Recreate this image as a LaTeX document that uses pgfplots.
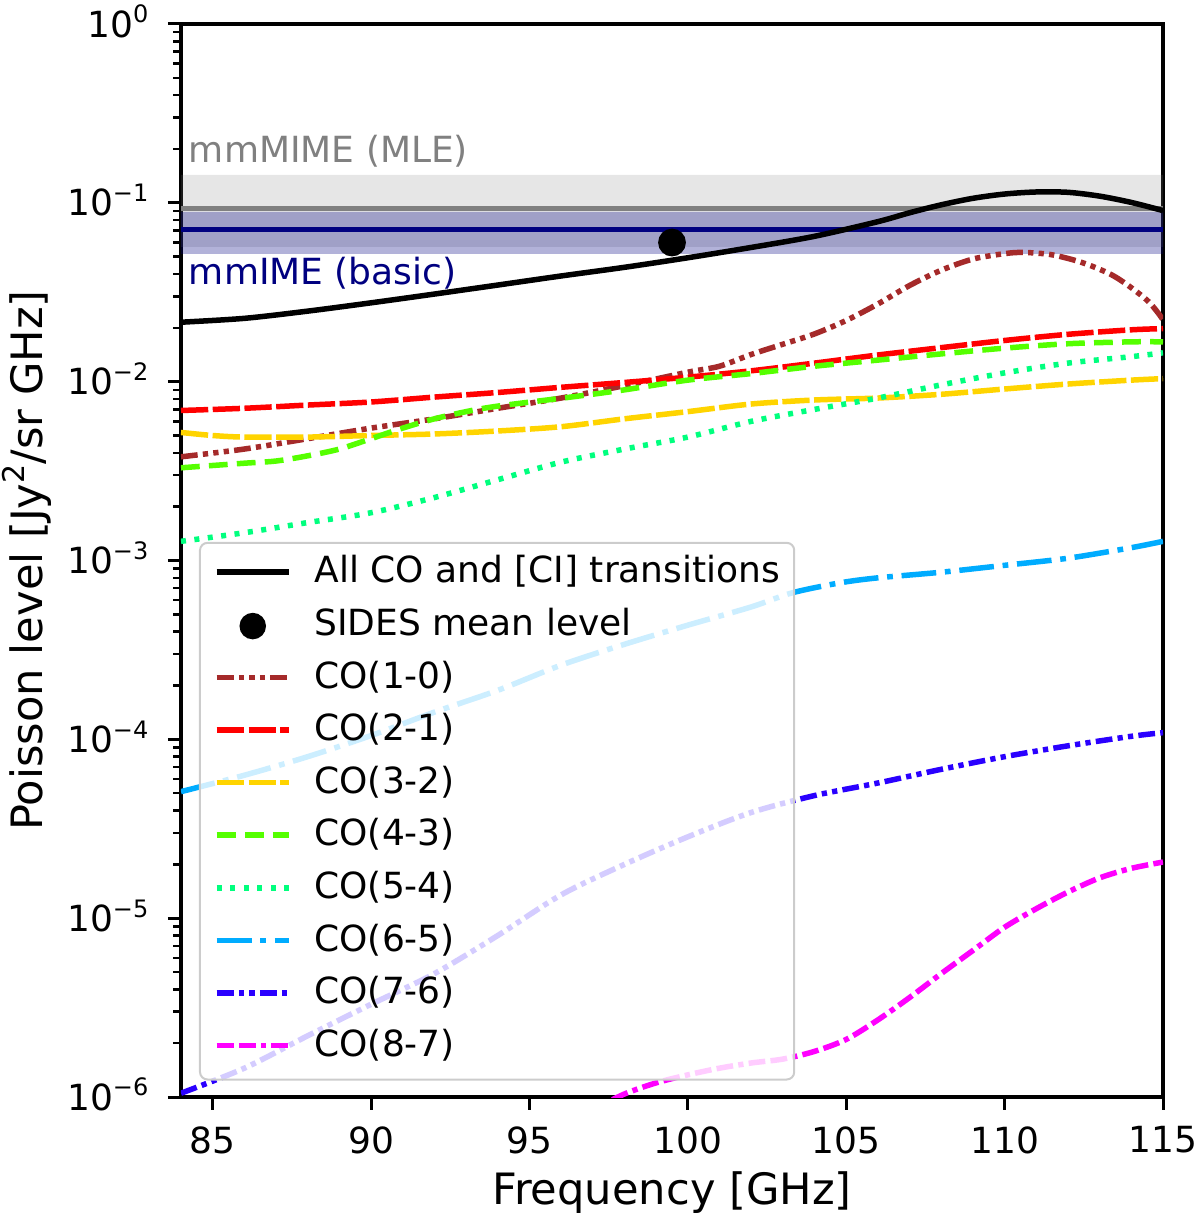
\documentclass[border=0pt]{standalone}
\usepackage{pgfplots}
\pgfplotsset{compat=1.18}
\usepackage{fontspec}
\setmainfont{DejaVu Sans}
\newcommand{\tp}[1]{10\raisebox{5.7pt}{\fontsize{9.6}{10}\selectfont #1}}
\definecolor{cbrown}{HTML}{A52A2A}
\definecolor{cred}{HTML}{FF0000}
\definecolor{cgold}{HTML}{FFD400}
\definecolor{cgreen}{HTML}{55FF00}
\definecolor{cspring}{HTML}{00FF7E}
\definecolor{clblue}{HTML}{00ACFF}
\definecolor{cblue}{HTML}{2A00FF}
\definecolor{cmag}{HTML}{FF00FF}
\definecolor{cnavy}{HTML}{000080}
\definecolor{cgray}{HTML}{808080}
\begin{document}
\begin{tikzpicture}
\begin{semilogyaxis}[
  name=ax,
  scale only axis, width=392.8pt, height=429.2pt,
  xmin=84, xmax=115, ymin=1e-6, ymax=1,
  line width=1.3pt,
  tick pos=left, tick align=outside,
  major tick length=5.2pt, minor tick length=3pt,
  every tick/.style={black, line width=1.2pt},
  minor tick style={line width=1pt},
  xtick={85,90,95,100,105,110,115},
  xticklabels={85,90,95,100,105,110,115},
  ytick={1e-6,1e-5,1e-4,1e-3,1e-2,1e-1,1},
  yticklabels={\tp{−6},\tp{−5},\tp{−4},\tp{−3},\tp{−2},\tp{−1},\tp{0}},
  minor ytick={2e-6,3e-6,4e-6,5e-6,6e-6,7e-6,8e-6,9e-6,
               2e-5,3e-5,4e-5,5e-5,6e-5,7e-5,8e-5,9e-5,
               2e-4,3e-4,4e-4,5e-4,6e-4,7e-4,8e-4,9e-4,
               2e-3,3e-3,4e-3,5e-3,6e-3,7e-3,8e-3,9e-3,
               2e-2,3e-2,4e-2,5e-2,6e-2,7e-2,8e-2,9e-2,
               0.2,0.3,0.4,0.5,0.6,0.7,0.8,0.9},
  tick label style={font=\fontsize{14.4}{17}\selectfont},
  xticklabel style={anchor=north, inner sep=0pt, yshift=-6pt},
  yticklabel style={anchor=base east, inner sep=0pt, xshift=-7.2pt, yshift=-5.25pt},
  every axis x label/.style={at={(axis description cs:0.5,0)}, anchor=base, yshift=-42.8pt,
     font=\fontsize{17.28}{20}\selectfont},
  every axis y label/.style={xshift=-55.2pt, at={(axis description cs:0,0.5)}, rotate=90, anchor=base,
     font=\fontsize{17.28}{20}\selectfont},
  xlabel={Frequency [GHz]},
  ylabel={Poisson level [Jy\raisebox{0.42em}{\fontsize{12}{12}\selectfont 2}/sr GHz]},
  legend cell align=left,
  legend image code/.code={\draw[#1] (0pt,0.9pt) -- (28.8pt,0.9pt);},
  legend style={at={(axis description cs:0,0)}, anchor=south west, xshift=7.2pt, yshift=6.6pt,
    fill=white, fill opacity=0.8, text opacity=1, draw=black!20, line width=0.8pt,
    rounded corners=3pt, inner xsep=5.6pt, inner ysep=5.5pt, row sep=6.74pt, column sep=9.2pt,
    font=\fontsize{14.4}{17}\selectfont,
    nodes={inner sep=0pt, text height=10.5pt, text depth=3.8pt}},
]
% bands
\addplot[draw=none, fill=cgray, fill opacity=0.2, forget plot]
  coordinates {(84,0.0568) (115,0.0568) (115,0.1434) (84,0.1434) (84,0.0568)};
\addplot[draw=none, fill=cnavy, fill opacity=0.3, forget plot]
  coordinates {(84,0.0519) (115,0.0519) (115,0.0891) (84,0.0891) (84,0.0519)};
\addplot[cgray, line width=2pt, forget plot] coordinates {(84,0.0926) (115,0.0926)};
\addplot[cnavy, line width=1.9pt, forget plot] coordinates {(84,0.0707) (115,0.0707)};
% all transitions
\addplot[black, line width=2.2pt, smooth] coordinates {
 (84,0.0215)(86,0.0226)(88,0.0248)(90,0.0276)(92,0.0309)(94,0.0347)(96,0.0390)
 (98,0.0436)(100,0.0493)(102,0.0563)(104,0.0650)(106,0.0785)(107,0.0880)(108,0.0975)(109,0.1060)
 (110,0.1120)(111,0.1150)(112,0.1145)(113,0.1090)(114,0.1005)(115,0.0905)};
\addlegendentry{All CO and [CI] transitions}
\addplot[only marks, mark=*, mark size=4.9pt, black,
  legend image code/.code={\fill[black, fill opacity=1] (14.4pt,0.4pt) circle (4.9pt);}]
  coordinates {(99.5,0.060)};
\addlegendentry{SIDES mean level}
% CO(1-0)
\addplot[cbrown, line width=2.2pt, smooth, line cap=butt,
  dash pattern=on 6.7pt off 2.1pt on 2.1pt off 2.1pt on 2.1pt off 2.1pt on 2.1pt off 2.1pt] coordinates {
 (84,0.0038)(86,0.0042)(88,0.0048)(90,0.0055)(92,0.0062)(94,0.0071)(96,0.0081)(98,0.0095)
 (100,0.0113)(101,0.0122)(102,0.0142)(103,0.0162)(104,0.0185)(105,0.0220)(106,0.0272)
 (107,0.0345)(108,0.0420)(109,0.0485)(110,0.0520)(110.6,0.0528)(111.5,0.0512)(112.5,0.0460)
 (113.5,0.0385)(114.5,0.0285)(115,0.0222)};
\addlegendentry{CO(1-0)}
% CO(2-1)
\addplot[cred, line width=2.2pt, smooth, line cap=butt, dash pattern=on 10.9pt off 1.8pt] coordinates {
 (84,0.0069)(86,0.0071)(88,0.0074)(90,0.0077)(92,0.0082)(94,0.0087)(96,0.0093)(98,0.0099)
 (100,0.0106)(102,0.0115)(104,0.0127)(106,0.0141)(108,0.0155)(110,0.0170)(112,0.0184)
 (114,0.0195)(115,0.0198)};
\addlegendentry{CO(2-1)}
% CO(3-2)
\addplot[cgold, line width=2.2pt, smooth, line cap=butt, dash pattern=on 10.9pt off 1.8pt] coordinates {
 (84,0.0052)(85,0.0050)(86,0.0049)(88,0.0049)(90,0.0050)(92,0.0051)(94,0.0053)(96,0.0056)
 (98,0.0062)(100,0.0068)(102,0.0075)(104,0.0079)(106,0.0081)(108,0.0085)(110,0.0091)
 (112,0.0097)(114,0.0102)(115,0.0104)};
\addlegendentry{CO(3-2)}
% CO(4-3)
\addplot[cgreen, line width=2.2pt, smooth, line cap=butt, dash pattern=on 7.5pt off 3.7pt] coordinates {
 (84,0.0033)(86,0.0035)(87,0.0036)(88,0.00385)(89,0.0042)(90,0.0048)(91,0.0055)(92,0.0062)
 (93,0.0068)(94,0.0073)(96.3,0.0082)(98,0.0090)(100,0.0102)(102,0.0111)(104,0.0122)(106,0.0132)
 (108,0.0143)(110,0.0154)(112,0.0163)(114,0.0167)(115,0.0167)};
\addlegendentry{CO(4-3)}
% CO(5-4)
\addplot[cspring, line width=2.2pt, smooth, line cap=butt, dash pattern=on 2pt off 3.4pt] coordinates {
 (84,0.00128)(86,0.00143)(88,0.00163)(90,0.00185)(92,0.00225)(94,0.00283)(96,0.00355)
 (98,0.00420)(100,0.00490)(102,0.00600)(104,0.00700)(106,0.00810)(108,0.00960)(110,0.0112)
 (112,0.0127)(114,0.0138)(115,0.0145)};
\addlegendentry{CO(5-4)}
% CO(6-5)
\addplot[clblue, line width=2.2pt, smooth, line cap=butt,
  dash pattern=on 13.9pt off 3.5pt on 2.3pt off 3.5pt] coordinates {
 (84,5.1e-5)(86,6.3e-5)(88,8.0e-5)(90,1.05e-4)(92,1.42e-4)(94,1.88e-4)(96,2.6e-4)(98,3.4e-4)
 (100,4.35e-4)(102,5.5e-4)(103.3,6.6e-4)(104.8,7.5e-4)(106,8.0e-4)(108,8.6e-4)(110,9.4e-4)
 (112,1.03e-3)(114,1.18e-3)(115,1.28e-3)};
\addlegendentry{CO(6-5)}
% CO(7-6)
\addplot[cblue, line width=2.2pt, smooth, line cap=butt,
  dash pattern=on 6.7pt off 2.1pt on 2.1pt off 2.1pt on 2.1pt off 2.1pt] coordinates {
 (84,1.05e-6)(86,1.45e-6)(88,2.2e-6)(90,3.3e-6)(92,4.9e-6)(94,8.0e-6)(96,1.35e-5)(98,2.0e-5)
 (100,2.85e-5)(102,3.9e-5)(104,4.85e-5)(106,5.7e-5)(108,6.8e-5)(110,8.0e-5)(112,9.2e-5)
 (114,1.04e-4)(115,1.09e-4)};
\addlegendentry{CO(7-6)}
% CO(8-7)
\addplot[cmag, line width=2.2pt, smooth, line cap=butt,
  dash pattern=on 6.7pt off 2.1pt on 6.7pt off 2.1pt on 2.1pt off 2.1pt] coordinates {
 (97,8.5e-7)(98,1.04e-6)(99,1.2e-6)(100,1.33e-6)(101,1.45e-6)(102,1.55e-6)(103,1.63e-6)
 (104,1.8e-6)(105,2.1e-6)(106,2.7e-6)(107,3.6e-6)(108,4.9e-6)(109,6.6e-6)(110,8.9e-6)
 (111,1.13e-5)(112,1.4e-5)(113,1.68e-5)(114,1.9e-5)(115,2.06e-5)};
\addlegendentry{CO(8-7)}
\node[anchor=base west, inner sep=0pt, text=cgray, font=\fontsize{14.4}{17}\selectfont]
  at (axis cs:84.2,0.1673) {mmMIME (MLE)};
\node[anchor=base west, inner sep=0pt, text=cnavy, font=\fontsize{14.4}{17}\selectfont]
  at (axis cs:84.2,0.0348) {mmIME (basic)};
\end{semilogyaxis}
\pgfresetboundingbox
\path ([xshift=-72.4pt,yshift=-49.6pt]ax.south west) rectangle ([xshift=14.8pt,yshift=9.6pt]ax.north east);
\end{tikzpicture}
\end{document}
